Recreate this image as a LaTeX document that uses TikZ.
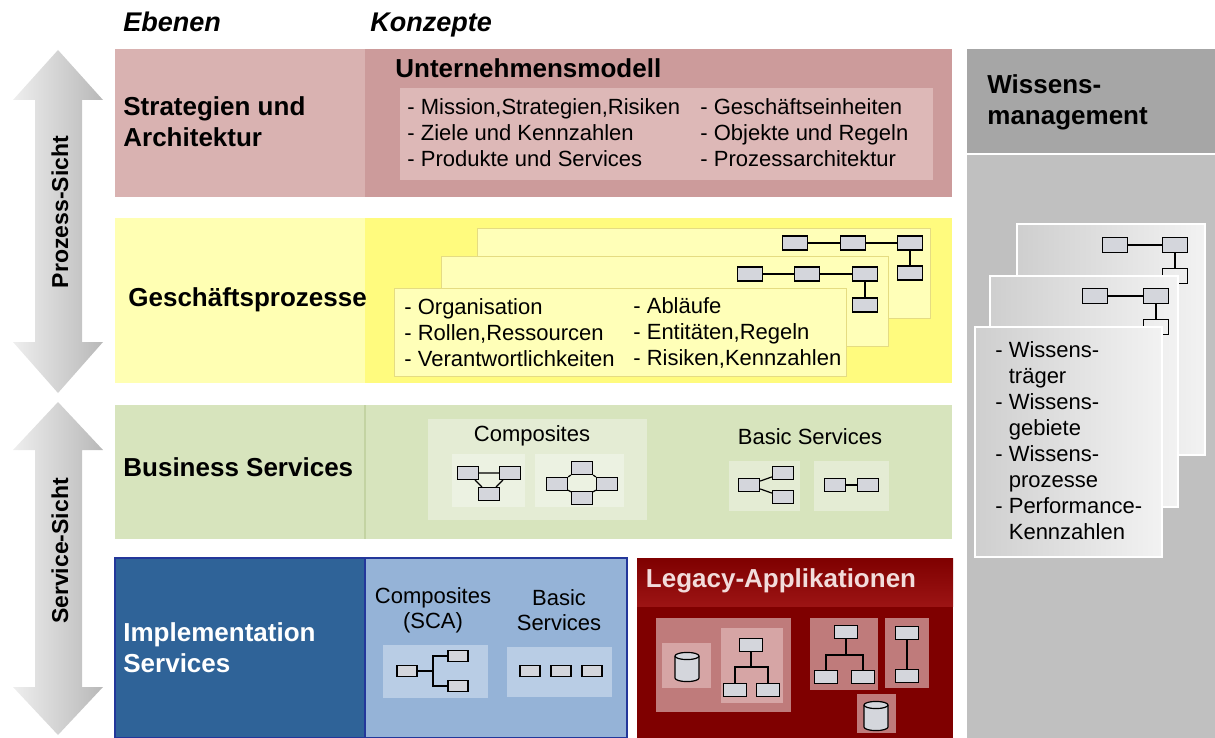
\documentclass[tikz,border=0pt]{standalone}
\usepackage{fontspec}
\setmainfont{Liberation Sans}
\usetikzlibrary{shapes.geometric, positioning, calc}

\definecolor{stratL}{HTML}{D9B2B1}
\definecolor{stratR}{HTML}{CC9B9B}
\definecolor{stratIn}{HTML}{DDB8B7}
\definecolor{procL}{HTML}{FFFFB3}
\definecolor{procR}{HTML}{FFFB7E}
\definecolor{procCard}{HTML}{FFFFB8}
\definecolor{procEdge}{HTML}{E5DC82}
\definecolor{busBand}{HTML}{D7E4BD}
\definecolor{busEdge}{HTML}{C3D3A2}
\definecolor{busPanel}{HTML}{E4ECD4}
\definecolor{busSub}{HTML}{ECF2E2}
\definecolor{implDark}{HTML}{2F6398}
\definecolor{implLight}{HTML}{95B3D7}
\definecolor{implEdge}{HTML}{23379A}
\definecolor{implPanel}{HTML}{B9CDE5}
\definecolor{legDark}{HTML}{7F0000}
\definecolor{legHead}{HTML}{9C1414}
\definecolor{legPanel}{HTML}{BF7B7B}
\definecolor{legSub}{HTML}{D6A5A5}
\definecolor{legText}{HTML}{F2DCDB}
\definecolor{wisHead}{HTML}{A6A6A6}
\definecolor{wisBody}{HTML}{C0C0C0}
\definecolor{boxgray}{HTML}{D4D6DC}
\definecolor{arrowL}{HTML}{EEEEEE}
\definecolor{arrowR}{HTML}{B8B8B8}

\begin{document}
\begin{tikzpicture}[
    x=0.5pt, y=-0.5pt,
    lbl/.style={font=\fontsize{13}{15.5}\selectfont\bfseries, align=left, anchor=west, inner sep=0},
    item/.style={font=\fontsize{11}{13}\selectfont, align=left, anchor=west, inner sep=0},
    head/.style={font=\fontsize{13.5}{15.5}\selectfont\bfseries\itshape, anchor=base west, inner sep=0},
    pbox/.style={rectangle, draw, fill=boxgray, minimum width=12.5pt, minimum height=7pt, inner sep=0, line width=0.6pt},
    sbox/.style={rectangle, draw, fill=boxgray, minimum width=10.5pt, minimum height=6.5pt, inner sep=0, line width=0.6pt},
    link/.style={line width=0.6pt},
    card/.style={draw=white, line width=0.6pt, left color=gray!38, right color=gray!10}
]
    \useasboundingbox (0,0) rectangle (1215,738);

    % Headings
    \node[head] (ebenen) at (123,32) {Ebenen};
    \node[head] (konzepte) at (370,32) {Konzepte};

    % View arrows
    \shade[left color=arrowL, right color=arrowR] (58,50) -- (103,100) -- (82,100) -- (82,342) -- (103,342) -- (58,393)
        -- (13,342) -- (35,342) -- (35,100) -- (13,100) -- cycle;
    \shade[left color=arrowL, right color=arrowR] (58,402) -- (103,450) -- (82,450) -- (82,687) -- (103,687) -- (58,735)
        -- (13,687) -- (35,687) -- (35,450) -- (13,450) -- cycle;
    \node[lbl, anchor=center, rotate=90, font=\fontsize{11.5}{13}\selectfont\bfseries] (prozsicht) at (60,212) {Prozess-Sicht};
    \node[lbl, anchor=center, rotate=90, font=\fontsize{11.5}{13}\selectfont\bfseries] (servsicht) at (60,551) {Service-Sicht};

    % Strategy row
    \fill[stratL] (115,49) rectangle (365,197);
    \fill[stratR] (365,49) rectangle (952,197);
    \fill[stratIn] (400,88) rectangle (933,180);
    \node[lbl] (strat) at (123,122) {Strategien und\\Architektur};
    \node[lbl] (umodell) at (395,68) {Unternehmensmodell};
    \node[item] (strat1) at (407,133) {- Mission,Strategien,Risiken\\- Ziele und Kennzahlen\\- Produkte und Services};
    \node[item] (strat2) at (700,133) {- Geschäftseinheiten\\- Objekte und Regeln\\- Prozessarchitektur};

    % Process row
    \fill[procL] (115,218) rectangle (365,383);
    \fill[procR] (365,218) rectangle (952,383);
    \filldraw[fill=procCard, draw=procEdge] (477,228) rectangle (930,318);
    \node[pbox] (p3a) at (795,243) {};
    \node[pbox] (p3b) at (853,243) {};
    \node[pbox] (p3c) at (910,243) {};
    \node[pbox] (p3d) at (910,273) {};
    \draw[link] (p3a) -- (p3b) -- (p3c) -- (p3d);
    \filldraw[fill=procCard, draw=procEdge] (441,256) rectangle (888,346);
    \node[pbox] (p2a) at (750,274) {};
    \node[pbox] (p2b) at (807,274) {};
    \node[pbox] (p2c) at (865,274) {};
    \node[pbox] (p2d) at (865,305) {};
    \draw[link] (p2a) -- (p2b) -- (p2c) -- (p2d);
    \filldraw[fill=procCard, draw=procEdge] (394,288) rectangle (846,376);
    \node[lbl] (proz) at (128,300) {Geschäftsprozesse};
    \node[item] (proz1) at (404,333) {- Organisation\\- Rollen,Ressourcen\\- Verantwortlichkeiten};
    \node[item] (proz2) at (633,333) {- Abläufe\\- Entitäten,Regeln\\- Risiken,Kennzahlen};

    % Business services row
    \fill[busBand] (115,405) rectangle (952,539);
    \draw[busEdge, line width=1pt] (365,405) -- (365,539);
    \fill[busPanel] (428,419) rectangle (647,520);
    \fill[busSub] (452,454) rectangle (525,507);
    \fill[busSub] (535,454) rectangle (624,507);
    \fill[busPanel] (729,461) rectangle (800,511);
    \fill[busPanel] (814,461) rectangle (889,511);
    \node[lbl] (bus) at (123,467) {Business Services};
    \node[item, anchor=center] (buscomp) at (532,436) {Composites};
    \node[item, anchor=center] (busbasic) at (810,437) {Basic Services};
    \node[sbox] (c1a) at (468,473) {};
    \node[sbox] (c1b) at (510,473) {};
    \node[sbox] (c1c) at (489,494) {};
    \draw[link] (c1a) -- (c1b) -- (c1c) -- (c1a);
    \node[sbox] (c2l) at (557,484) {};
    \node[sbox] (c2t) at (582,468) {};
    \node[sbox] (c2r) at (607,484) {};
    \node[sbox] (c2b) at (582,498) {};
    \draw[link] (c2l) -- (c2t) -- (c2r) -- (c2b) -- (c2l);
    \node[sbox] (b1l) at (749,485) {};
    \node[sbox] (b1u) at (783,473) {};
    \node[sbox] (b1d) at (783,497) {};
    \draw[link] (b1u) -- (b1l) -- (b1d);
    \node[sbox] (b2l) at (835,485) {};
    \node[sbox] (b2r) at (868,485) {};
    \draw[link] (b2l) -- (b2r);

    % Implementation services
    \fill[implDark] (115,558) rectangle (365,738);
    \fill[implLight] (365,558) rectangle (627,738);
    \draw[implEdge, line width=0.8pt] (115,558) rectangle (627,738);
    \draw[implEdge, line width=0.8pt] (365,558) -- (365,738);
    \fill[implPanel] (383,645) rectangle (488,698);
    \fill[implPanel] (507,647) rectangle (612,697);
    \node[lbl, text=white] (impl) at (123,648) {Implementation\\Services};
    \node[item, anchor=center, align=center, font=\fontsize{11}{12.5}\selectfont] (implcomp) at (433,610) {Composites\\(SCA)};
    \node[item, anchor=center, align=center, font=\fontsize{11}{12.5}\selectfont] (implbasic) at (559,610) {Basic\\Services};
    \node[sbox, minimum width=10pt, minimum height=5.5pt] (scal) at (407,671) {};
    \node[sbox, minimum width=10pt, minimum height=5.5pt] (scau) at (458,656) {};
    \node[sbox, minimum width=10pt, minimum height=5.5pt] (scad) at (458,686) {};
    \coordinate (scaj) at (433,671);
    \draw[link] (scal) -- (scaj);
    \draw[link] (scau.west) -| (scaj) |- (scad.west);
    \foreach \i/\x in {1/530, 2/561, 3/592}
        \node[sbox, minimum width=10pt, minimum height=5.5pt] (ib\i) at (\x,671) {};

    % Legacy applications
    \fill[legDark] (637,558) rectangle (953,738);
    \shade[top color=legDark, bottom color=legHead] (637,558) rectangle (953,606);
    \fill[legPanel] (656,618) rectangle (791,712);
    \fill[legSub] (662,643) rectangle (711,688);
    \fill[legSub] (721,628) rectangle (783,703);
    \fill[legPanel] (810,618) rectangle (878,690);
    \fill[legPanel] (885,618) rectangle (929,688);
    \fill[legPanel] (857,694) rectangle (896,733);
    \node[lbl, anchor=center, text=legText] (legacy) at (781,581) {Legacy-Applikationen};
    % data stores
    \foreach \cx/\cy in {687/667, 876/716} {
        \filldraw[fill=boxgray, link] (\cx-12,\cy-11) -- (\cx-12,\cy+11) arc[start angle=180, end angle=360, x radius=6pt, y radius=1.8pt]
            -- (\cx+12,\cy-11) arc[start angle=0, end angle=180, x radius=6pt, y radius=1.8pt] -- cycle;
        \draw[link] (\cx-12,\cy-11) arc[start angle=180, end angle=360, x radius=6pt, y radius=1.8pt];
    }
    \node[sbox, minimum width=11.5pt] (lat) at (751,645) {};
    \node[sbox, minimum width=11.5pt] (lab1) at (735,690) {};
    \node[sbox, minimum width=11.5pt] (lab2) at (768,690) {};
    \coordinate (laj) at (751,667);
    \draw[link] (lat) -- (laj);
    \draw[link] (lab1) |- (laj) -| (lab2);
    \node[sbox, minimum width=11.5pt] (lbt) at (846,632) {};
    \node[sbox, minimum width=11.5pt] (lbb1) at (826,677) {};
    \node[sbox, minimum width=11.5pt] (lbb2) at (863,677) {};
    \coordinate (lbj) at (846,655);
    \draw[link] (lbt) -- (lbj);
    \draw[link] (lbb1) |- (lbj) -| (lbb2);
    \node[sbox, minimum width=11.5pt] (lct) at (907,633) {};
    \node[sbox, minimum width=11.5pt] (lcb) at (907,676) {};
    \draw[link] (lct) -- (lcb);

    % Knowledge management
    \fill[wisHead] (967,49) rectangle (1215,153);
    \fill[wisBody] (967,155) rectangle (1215,738);
    \node[lbl] (wissen) at (987,102) {Wissens-\\management};
    \shade[card] (1017,224) rectangle (1205,455);
    \node[pbox, minimum height=7.5pt] (wa1) at (1115,245) {};
    \node[pbox, minimum height=7.5pt] (wa2) at (1175,245) {};
    \node[pbox, minimum height=7.5pt, fill=none] (wa3) at (1175,276) {};
    \draw[link] (wa1) -- (wa2) -- (wa3);
    \shade[card] (990,276) rectangle (1178,507);
    \node[pbox, minimum height=7.5pt] (wb1) at (1095,296) {};
    \node[pbox, minimum height=7.5pt] (wb2) at (1156,296) {};
    \node[pbox, minimum height=7.5pt, fill=none] (wb3) at (1156,327) {};
    \draw[link] (wb1) -- (wb2) -- (wb3);
    \shade[card] (975,327) rectangle (1162,557);
    \node[item] (wisitems) at (995,441) {- Wissens-\\\hphantom{- }träger\\- Wissens-\\\hphantom{- }gebiete\\- Wissens-\\\hphantom{- }prozesse\\- Performance-\\\hphantom{- }Kennzahlen};
\end{tikzpicture}
\end{document}
